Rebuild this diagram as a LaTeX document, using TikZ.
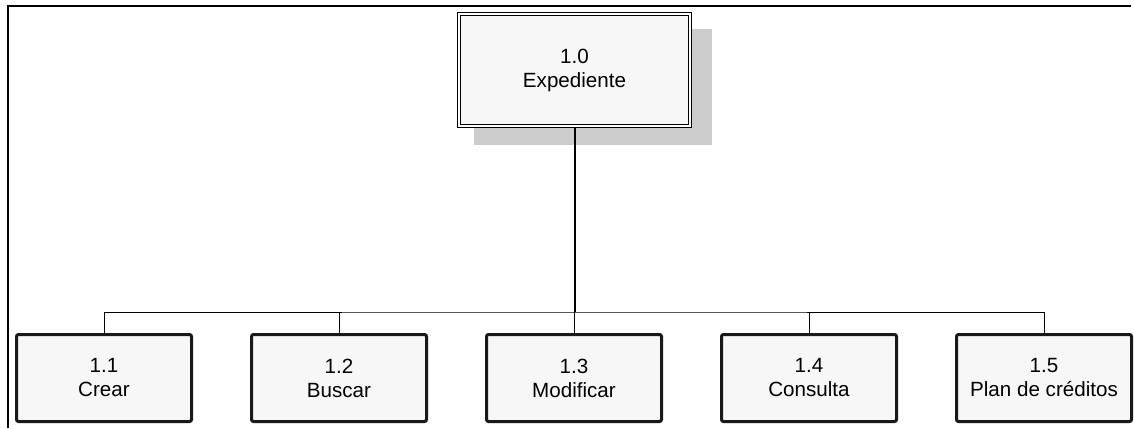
\documentclass[tikz,border=0pt]{standalone}
\usepackage{fontspec}
\setmainfont{Liberation Sans}
\usetikzlibrary{positioning, shadows}

\begin{document}
\begin{tikzpicture}[
  x=0.5pt, y=-0.5pt,
  node distance=28.5pt,
  topbox/.style={rectangle, minimum width=115.5pt, minimum height=56pt, align=center,
                 fill=black!3, draw=black, line width=0.7pt, double=white, double distance=0.6pt,
                 font=\fontsize{10.3}{12}\selectfont,
                 drop shadow={fill=black!20, opacity=1, shadow xshift=9pt, shadow yshift=-8.25pt, shadow scale=1.03}},
  box/.style={rectangle, rounded corners=1pt, minimum width=87.5pt, minimum height=43.5pt, align=center,
              fill=black!3, draw=black!90, line width=1.5pt, font=\fontsize{10.3}{12}\selectfont},
  trunk/.style={line width=1pt},
  branch/.style={line width=0.5pt},
  frame/.style={line width=1pt}
]
\useasboundingbox (0,0) rectangle (1134,428);

% ---- frame ----
\draw[frame] (8,428) -- (8,6) -- (1131,6);

% ---- top level ----
\node[topbox] (exp) at (574.5,70) {1.0\\Expediente};

% ---- second level ----
\node[box] (crear)  at (104,378)      {1.1\\Crear};
\node[box, right=of crear]  (buscar)  {1.2\\Buscar};
\node[box, right=of buscar] (modif)   {1.3\\Modificar};
\node[box, right=of modif]  (consul)  {1.4\\Consulta};
\node[box, right=of consul] (plan)    {1.5\\Plan de créditos};

% ---- connectors ----
\coordinate (bus) at (574.5,312);
\draw[trunk]  (exp.south) -- (bus);
\draw[branch] (crear.north) |- (bus) -| (plan.north);
\draw[branch] (buscar.north) -- (buscar.north |- bus);
\draw[branch] (modif.north)  -- (modif.north |- bus);
\draw[branch] (consul.north) -- (consul.north |- bus);

\end{tikzpicture}
\end{document}
